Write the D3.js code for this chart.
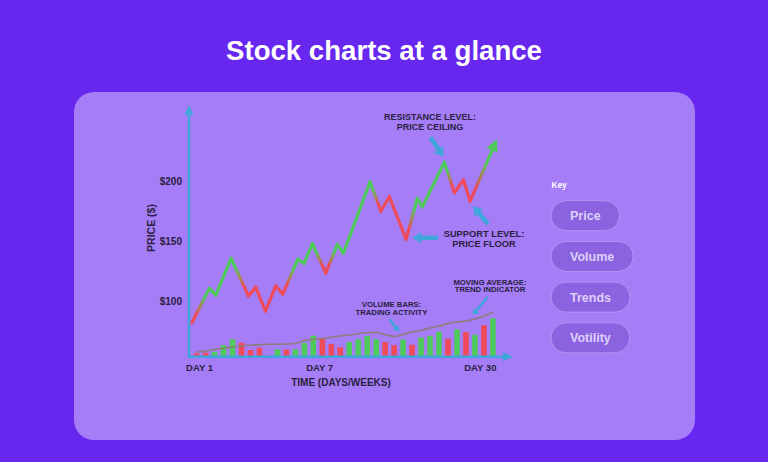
<!DOCTYPE html>
<html><head><meta charset="utf-8">
<script src="https://cdn.jsdelivr.net/npm/d3@7"></script>
<style>html,body{margin:0;padding:0;background:#6727ef;} svg{display:block;}</style>
</head><body>
<svg id="chart" width="768" height="462"></svg>
<script>
// ---------- DATA ----------
// price path: time position (in trading-session units) and price ($)
const priceTime   = [-0.53, 1.43, 2.14, 3.84, 5.77, 6.59, 7.66, 8.82, 9.60, 11.27, 11.97, 12.90, 14.39, 15.68, 16.35, 19.32, 20.52, 21.47, 23.33, 24.59, 25.15, 27.60, 28.71, 29.72, 30.46, 33.44];
const priceValues = [81.8, 110.6, 105.0, 135.8, 104.2, 111.5, 91.6, 112.6, 105.9, 135.0, 131.6, 148.0, 123.5, 147.5, 140.0, 200.0, 175.4, 187.4, 151.7, 186.1, 179.0, 216.3, 190.8, 201.4, 183.8, 235.5];
const priceTrend  = [0, 1, 1, 1, 0, 0, 0, 0, 0, 1, 1, 1, 0, 1, 1, 1, 0, 0, 0, 1, 1, 1, 0, 0, 0, 1]; // 1 bullish, 0 bearish
// volume per session (null = no bar)
const volumeValues = [3.4, 4.0, 5.0, 11.7, 17.4, 14.0, 6.7, 9.0, null, 7.4, 7.0, 7.4, 13.7, 21.0, 18.4, 12.7, 9.4, 14.7, 17.4, 20.8, 17.4, 14.7, 11.4, 17.2, 11.9, 19.2, 20.9, 25.0, 18.0, 27.4, 24.7, 21.9, 31.5, 38.4];
const volumeUp     = [0, 0, 1, 1, 1, 0, 0, 0, null, 1, 0, 1, 1, 1, 0, 0, 0, 1, 1, 1, 1, 0, 0, 1, 0, 1, 1, 1, 0, 1, 0, 1, 0, 1];
const movingAvg    = [4.4, 5.7, 7.2, 8.5, 9.7, 10.7, 11.4, 12.1, 12.4, 12.5, 12.7, 13.2, 16.1, 17.2, 18.2, 19.4, 20.7, 21.7, 22.9, 24.2, 24.2, 22.2, 20.2, 22.2, 24.7, 26.2, 28.7, 30.7, 33.2, 34.7, 35.7, 37.7, 40.7, 44.7];
const priceTicks   = [100, 150, 200];
const dayTickLabels = ["DAY 1", "DAY 7", "DAY 30"];
const dayTickTimes  = [0.33, 13.7, 31.6];
const keyItems = ["Price", "Volume", "Trends", "Votility"];

// ---------- STYLE ----------
const GREEN = "#4fcb5b", RED = "#ef4b58", BLUE = "#3fa6dc", INK = "#2a1f40";
const FONT = "'Liberation Sans', Arial, sans-serif";

const svg = d3.select("#chart");
svg.append("rect").attr("width", 768).attr("height", 462).attr("fill", "#6727ef");
svg.append("text").attr("x", 384).attr("y", 59.5).attr("text-anchor", "middle")
  .attr("font-family", FONT).attr("font-weight", 700).attr("font-size", 27.6)
  .attr("fill", "#ffffff").text("Stock charts at a glance");
svg.append("rect").attr("x", 74).attr("y", 92).attr("width", 621).attr("height", 348)
  .attr("rx", 20).attr("fill", "#a57df7");

// ---------- SCALES ----------
const x  = d3.scaleLinear().domain([0, 33]).range([196.6, 492.9]);
const yP = d3.scaleLinear().domain([100, 200]).range([301, 181.7]);
const yV = d3.scaleLinear().domain([0, 50]).range([356.7, 306.7]);
const axisX = 189, baseY = yV(0);

function arrow(g, x1, y1, x2, y2, w, hl, hw, color) {
  const dx = x2 - x1, dy = y2 - y1, L = Math.hypot(dx, dy), ux = dx / L, uy = dy / L;
  const bx = x2 - ux * hl, by = y2 - uy * hl;
  g.append("line").attr("x1", x1).attr("y1", y1).attr("x2", bx + ux).attr("y2", by + uy)
    .attr("stroke", color).attr("stroke-width", w);
  g.append("path").attr("d", `M${x2},${y2}L${bx - uy * hw},${by + ux * hw}L${bx + uy * hw},${by - ux * hw}Z`)
    .attr("fill", color);
}

// ---------- VOLUME ----------
const vols = volumeValues.map((v, i) => ({ v, i, up: volumeUp[i] })).filter(d => d.v != null);
svg.append("g").selectAll("rect").data(vols).join("rect")
  .attr("x", d => x(d.i) - 2.8).attr("width", 5.6)
  .attr("y", d => yV(d.v)).attr("height", d => baseY - yV(d.v))
  .attr("fill", d => d.up ? GREEN : RED);

// moving average
svg.append("path").datum(movingAvg)
  .attr("d", d3.line().x((d, i) => x(i)).y(d => yV(d)).curve(d3.curveMonotoneX))
  .attr("fill", "none").attr("stroke", "#8e7e78").attr("stroke-width", 1.6);

// ---------- AXES ----------
const axes = svg.append("g");
arrow(axes, axisX, baseY + 1, axisX, 105, 2.4, 10, 4.5, BLUE);
arrow(axes, axisX - 1, baseY, 513, baseY, 2.4, 10, 4.5, BLUE);

const yAxisG = svg.append("g").attr("transform", "translate(182,0)")
  .call(d3.axisLeft(yP).tickValues(priceTicks).tickFormat(d => "$" + d).tickSize(0).tickPadding(0));
yAxisG.select(".domain").remove();
yAxisG.selectAll("text").attr("font-family", FONT).attr("font-weight", 700)
  .attr("font-size", 10).attr("fill", INK);

svg.append("g").selectAll("text").data(dayTickLabels).join("text")
  .attr("x", (d, i) => x(dayTickTimes[i])).attr("y", 371).attr("text-anchor", "middle")
  .attr("font-family", FONT).attr("font-weight", 700).attr("font-size", 9.5).attr("fill", INK)
  .text(d => d);
svg.append("g").selectAll("line").data(dayTickTimes.slice(1, 2)).join("line")
  .attr("x1", d => x(d) + 7).attr("x2", d => x(d) + 7).attr("y1", baseY).attr("y2", baseY + 2.5)
  .attr("stroke", BLUE).attr("stroke-width", 1);

svg.append("text").attr("x", 341).attr("y", 386).attr("text-anchor", "middle")
  .attr("font-family", FONT).attr("font-weight", 700).attr("font-size", 10).attr("fill", INK)
  .text("TIME (DAYS/WEEKS)");
svg.append("text").attr("transform", "translate(155,228) rotate(-90)").attr("text-anchor", "middle")
  .attr("font-family", FONT).attr("font-weight", 700).attr("font-size", 10.5).attr("fill", INK)
  .text("PRICE ($)");

// ---------- PRICE LINE ----------
const pts = priceValues.map((p, i) => ({ x: x(priceTime[i]), y: yP(p), up: priceTrend[i] }));
const n = pts.length;
const last = pts[n - 1], prev = pts[n - 2];
const L = Math.hypot(last.x - prev.x, last.y - prev.y);
const ux = (last.x - prev.x) / L, uy = (last.y - prev.y) / L;
const headLen = 12, headW = 6;
const endPt = { x: last.x - ux * (headLen - 2), y: last.y - uy * (headLen - 2), up: last.up };
const linePts = pts.slice(0, n - 1).concat([endPt]);
const segs = d3.pairs(linePts).map(([a, b], i) => ({ a, b, i }));
const defs = svg.append("defs");
segs.forEach(s => {
  const gr = defs.append("linearGradient").attr("id", "seg" + s.i).attr("gradientUnits", "userSpaceOnUse")
    .attr("x1", s.a.x).attr("y1", s.a.y).attr("x2", s.b.x).attr("y2", s.b.y);
  gr.append("stop").attr("offset", 0.25).attr("stop-color", s.a.up ? GREEN : RED);
  gr.append("stop").attr("offset", 0.75).attr("stop-color", s.b.up ? GREEN : RED);
});
svg.append("g").selectAll("line").data(segs).join("line")
  .attr("x1", d => d.a.x).attr("y1", d => d.a.y).attr("x2", d => d.b.x).attr("y2", d => d.b.y)
  .attr("stroke", d => `url(#seg${d.i})`).attr("stroke-width", 3.2).attr("stroke-linecap", "round");
{
  const bx = last.x - ux * headLen, by = last.y - uy * headLen;
  svg.append("path").attr("d", `M${last.x},${last.y}L${bx - uy * headW},${by + ux * headW}L${bx + uy * headW},${by - ux * headW}Z`)
    .attr("fill", GREEN);
}

// ---------- ANNOTATIONS ----------
const ann = svg.append("g");
function label(lines, cx, y0, size, lh) {
  lines.forEach((t, k) => ann.append("text").attr("x", cx).attr("y", y0 + k * lh).attr("text-anchor", "middle")
    .attr("font-family", FONT).attr("font-weight", 700).attr("font-size", size).attr("fill", INK).text(t));
}
const peak = pts[21], floor1 = pts[18], floor2 = pts[24];
label(["RESISTANCE LEVEL:", "PRICE CEILING"], 430, 120, 9, 10);
arrow(ann, peak.x - 14, peak.y - 25, peak.x - 1, peak.y - 5.5, 4.5, 9, 6, BLUE);
label(["SUPPORT LEVEL:", "PRICE FLOOR"], 484, 237, 9.3, 10);
arrow(ann, floor1.x + 32, floor1.y - 1.5, floor1.x + 6, floor1.y - 1.5, 4.5, 9, 5.5, BLUE);
arrow(ann, floor2.x + 18, floor2.y + 23, floor2.x + 3, floor2.y + 5, 4.5, 9, 5.5, BLUE);
label(["MOVING AVERAGE:", "TREND INDICATOR"], 490, 284.5, 7.7, 7.8);
arrow(ann, 487.7, 296.7, 472.7, 315, 2.5, 6, 3.8, BLUE);
label(["VOLUME BARS:", "TRADING ACTIVITY"], 391.5, 307, 7.7, 8.2);
arrow(ann, 389.3, 319.3, 399.3, 331.7, 2.5, 6, 3.8, BLUE);

// ---------- KEY ----------
svg.append("text").attr("x", 551.5).attr("y", 188).attr("font-family", FONT).attr("font-weight", 700)
  .attr("font-size", 8.3).attr("fill", "#ffffff").text("Key");
const keyG = svg.append("g").selectAll("g").data(keyItems).join("g")
  .attr("transform", (d, i) => `translate(551,${200.7 + i * 40.7})`);
keyG.each(function (d) {
  const g = d3.select(this);
  const r = g.append("rect").attr("y", 0).attr("height", 30).attr("rx", 15)
    .attr("fill", "#8b62df").attr("stroke", "#b79ef5").attr("stroke-width", 0.8);
  const t = g.append("text").attr("y", 19.5).attr("text-anchor", "middle")
    .attr("font-family", FONT).attr("font-weight", 700).attr("font-size", 12.5).attr("fill", "#ddd0fa").text(d);
  const w = t.node().getComputedTextLength() + 38;
  r.attr("width", w);
  t.attr("x", w / 2);
});
</script>
</body></html>
